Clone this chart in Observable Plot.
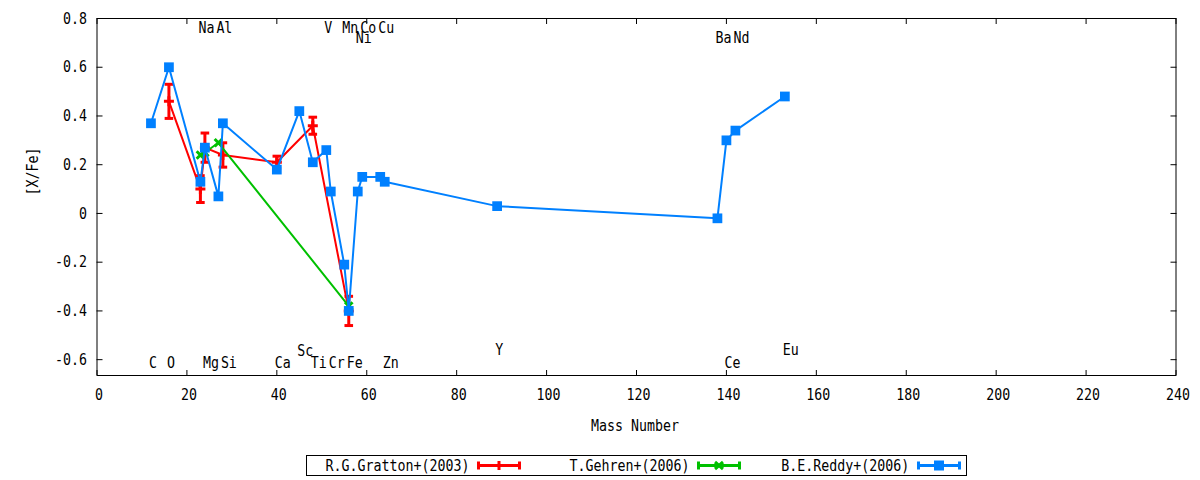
<!DOCTYPE html>
<html>
<head>
<meta charset="utf-8">
<script src="https://cdn.jsdelivr.net/npm/d3@7"></script>
<script src="https://cdn.jsdelivr.net/npm/@observablehq/plot@0.6"></script>
<style>
  body { margin: 0; background: #fff; font-family: "DejaVu Sans Mono", monospace; }
  #chart { position: relative; width: 1200px; height: 480px; }
  #legend { position: absolute; left: 306px; top: 455px; width: 661px; height: 21px;
            border: 1px solid #000; box-sizing: border-box; font-size: 16px; }
  .lab { position: absolute; top: 0; line-height: 19px; white-space: nowrap;
         transform-origin: right center; transform: scaleX(0.83); }
  .sample { position: absolute; top: 0; }
</style>
</head>
<body>
<div id="chart"><div id="legend"></div></div>
<script>
const RED = "#ff0000", GREEN = "#00c000", BLUE = "#0080ff";
const SX = 0.83; // the reference font is a narrowed DejaVu Sans Mono

// axes
const xTicks = [0, 20, 40, 60, 80, 100, 120, 140, 160, 180, 200, 220, 240];
const yTicks = [0.8, 0.6, 0.4, 0.2, 0, -0.2, -0.4, -0.6];

// R.G.Gratton+(2003)
const grattonMass = [16, 23, 24, 28, 40, 48, 56];
const grattonVal = [0.46, 0.10, 0.27, 0.24, 0.21, 0.36, -0.40];
const grattonErr = [0.07, 0.055, 0.06, 0.05, 0.025, 0.035, 0.06];

// T.Gehren+(2006)
const gehrenMass = [23, 24, 27, 56];
const gehrenVal = [0.24, 0.25, 0.29, -0.38];

// B.E.Reddy+(2006)
const reddyMass = [12, 16, 23, 24, 27, 28, 40, 45, 48, 51, 52, 55, 56, 58, 59, 63, 64, 89, 138, 140, 142, 153];
const reddyVal = [0.37, 0.60, 0.13, 0.27, 0.07, 0.37, 0.18, 0.42, 0.21, 0.26, 0.09, -0.21, -0.40, 0.09, 0.15, 0.15, 0.13, 0.03, -0.02, 0.30, 0.34, 0.48];

// element labels
const elemName = ["C", "O", "Na", "Mg", "Al", "Si", "Ca", "Sc", "Ti", "V", "Cr", "Mn", "Fe", "Ni", "Co", "Cu", "Zn", "Y", "Ba", "Ce", "Nd", "Eu"];
const elemMass = [12, 16, 23, 24, 27, 28, 40, 45, 48, 51, 52, 55, 56, 58, 59, 63, 64, 89, 138, 140, 142, 153];
const elemY = [-0.615, -0.615, 0.76, -0.615, 0.76, -0.615, -0.615, -0.565, -0.615, 0.76, -0.615, 0.76, -0.615, 0.72, 0.76, 0.76, -0.615, -0.56, 0.72, -0.615, 0.72, -0.56];

const gratton = grattonMass.map((m, i) => ({mass: m, val: grattonVal[i], err: grattonErr[i]}));
const gehren = gehrenMass.map((m, i) => ({mass: m, val: gehrenVal[i]}));
const reddy = reddyMass.map((m, i) => ({mass: m, val: reddyVal[i]}));
const elems = elemName.map((n, i) => ({name: n, mass: elemMass[i], y: elemY[i]}));

// small stroke-only symbols (size is r*r*pi)
const cap = {draw(ctx, size) { const r = Math.sqrt(size / Math.PI); ctx.moveTo(-r, 0); ctx.lineTo(r, 0); }};
const plus = {draw(ctx, size) { const r = Math.sqrt(size / Math.PI);
  ctx.moveTo(-r, 0); ctx.lineTo(r, 0); ctx.moveTo(0, -r); ctx.lineTo(0, r); }};
const times = {draw(ctx, size) { const r = Math.sqrt(size / Math.PI) * 0.75;
  ctx.moveTo(-r, -r); ctx.lineTo(r, r); ctx.moveTo(-r, r); ctx.lineTo(r, -r); }};

const fmt = (d) => Math.abs(d) < 1e-9 ? "0" : d.toFixed(1);

const plot = Plot.plot({
  width: 1200,
  height: 448,
  marginLeft: 96.5,
  marginRight: 24.5,
  marginTop: 18,
  marginBottom: 73,
  style: {fontFamily: "DejaVu Sans Mono", fontSize: "16px", color: "#000", background: "#fff"},
  x: {domain: [0, 240]},
  y: {domain: [-0.665, 0.8]},
  marks: [
    Plot.frame({stroke: "#000"}),
    Plot.axisX({ticks: xTicks, tickSize: 0, tickPadding: 13, dx: 2, label: null}),
    Plot.axisX({ticks: xTicks, tickSize: -5, fill: "none", label: null}),
    Plot.axisX({anchor: "top", ticks: xTicks, tickSize: -5, fill: "none", label: null}),
    Plot.axisY({ticks: yTicks, tickSize: 0, tickPadding: 10, tickFormat: fmt, label: null}),
    Plot.axisY({ticks: yTicks, tickSize: -6, fill: "none", label: null}),
    Plot.axisY({anchor: "right", ticks: yTicks, tickSize: -6, fill: "none", label: null}),
    Plot.text(["Mass Number"], {frameAnchor: "bottom", lineAnchor: "middle", dx: -1.5, dy: 50}),
    Plot.text(["[X/Fe]"], {frameAnchor: "left", dx: -64.5, dy: -1.5, rotate: -90}),

    Plot.line(gratton, {x: "mass", y: "val", stroke: RED, strokeWidth: 2}),
    Plot.ruleX(gratton, {x: "mass", y1: (d) => d.val - d.err, y2: (d) => d.val + d.err, stroke: RED, strokeWidth: 3}),
    Plot.dot(gratton, {x: "mass", y: (d) => d.val - d.err, symbol: cap, r: 4.3, fill: "none", stroke: RED, strokeWidth: 3}),
    Plot.dot(gratton, {x: "mass", y: (d) => d.val + d.err, symbol: cap, r: 4.3, fill: "none", stroke: RED, strokeWidth: 3}),
    Plot.dot(gratton, {x: "mass", y: "val", symbol: plus, r: 5, fill: "none", stroke: RED, strokeWidth: 3}),

    Plot.line(gehren, {x: "mass", y: "val", stroke: GREEN, strokeWidth: 2}),
    Plot.dot(gehren, {x: "mass", y: "val", symbol: times, r: 5, fill: "none", stroke: GREEN, strokeWidth: 3}),

    Plot.line(reddy, {x: "mass", y: "val", stroke: BLUE, strokeWidth: 2}),
    Plot.dot(reddy, {x: "mass", y: "val", symbol: "square", r: 5.5, fill: BLUE, stroke: "none"}),

    Plot.text(elems, {x: "mass", y: "y", text: "name", textAnchor: "start", dx: -2, fill: "#000"})
  ]
});

// narrow every text around its own anchor point
plot.querySelectorAll("text").forEach((t) => {
  const x = +t.getAttribute("x") || 0, y = +t.getAttribute("y") || 0;
  const old = t.getAttribute("transform") || "";
  t.setAttribute("transform", `${old} translate(${x},${y}) scale(${SX},1) translate(${-x},${-y})`);
});

const chart = document.getElementById("chart");
chart.insertBefore(plot, chart.firstChild);

// legend
const legendItems = [
  {label: "R.G.Gratton+(2003)", color: RED, mark: "plus", textEnd: 162, sample: 170},
  {label: "T.Gehren+(2006)", color: GREEN, mark: "times", textEnd: 382, sample: 390},
  {label: "B.E.Reddy+(2006)", color: BLUE, mark: "square", textEnd: 602, sample: 610}
];
const legend = document.getElementById("legend");
for (const it of legendItems) {
  const lab = document.createElement("span");
  lab.className = "lab";
  lab.style.right = (659 - it.textEnd) + "px";
  lab.textContent = it.label;
  legend.appendChild(lab);

  let mid = "";
  if (it.mark === "plus") mid = `<path d="M17,9.5H27M22,5V14" stroke="${it.color}" stroke-width="3"/>`;
  else if (it.mark === "times") mid = `<path d="M18,6L26,13M18,13L26,6" stroke="${it.color}" stroke-width="3"/>`;
  else mid = `<rect x="17" y="4.5" width="10" height="10" fill="${it.color}"/>`;
  const sample = document.createElement("div");
  sample.className = "sample";
  sample.style.left = it.sample + "px";
  sample.innerHTML = `<svg width="44" height="19"><path d="M1,9.5H43M1.5,5.5V13.5M42.5,5.5V13.5" stroke="${it.color}" stroke-width="3" fill="none"/>${mid}</svg>`;
  legend.appendChild(sample);
}
</script>
</body>
</html>
